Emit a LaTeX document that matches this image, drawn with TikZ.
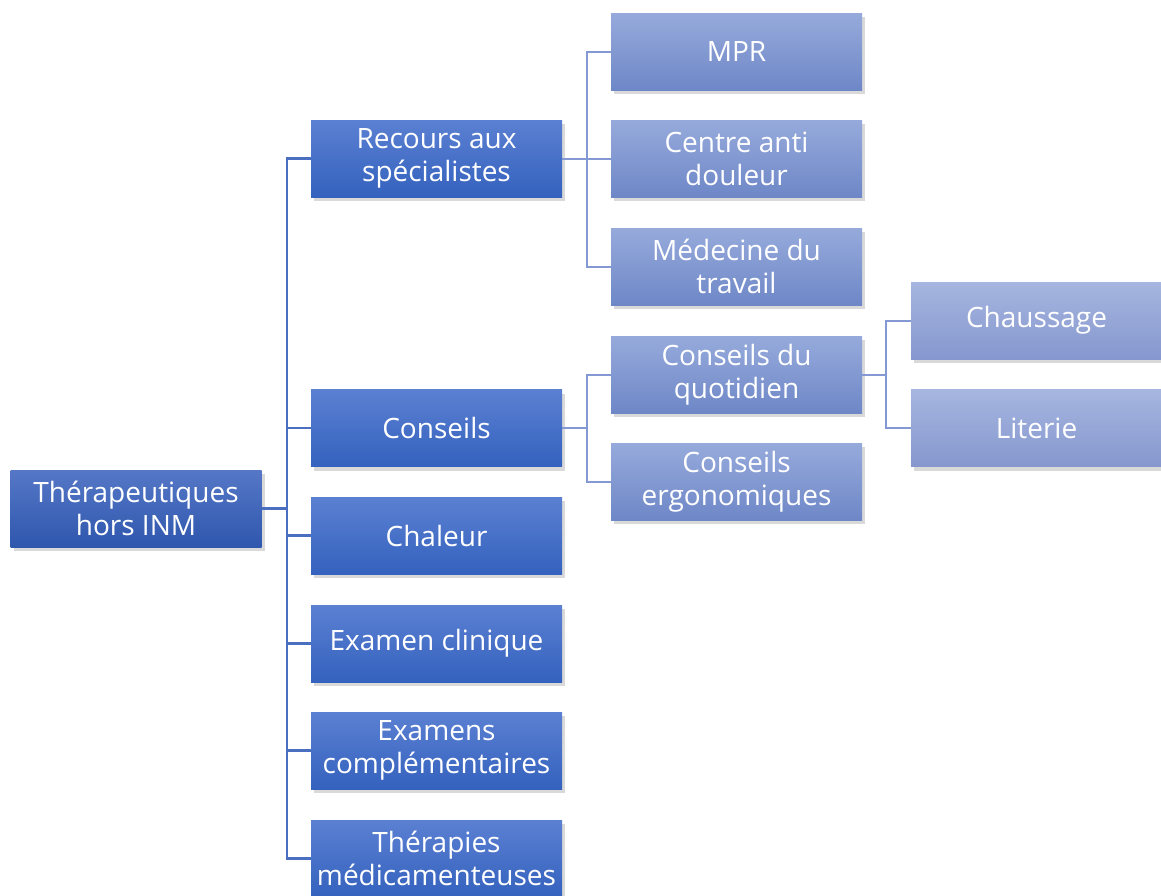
\documentclass[tikz,border=0pt]{standalone}
\usepackage{fontspec}
\setmainfont{Open Sans}
\usetikzlibrary{shadows}
\definecolor{rootT}{HTML}{5577C6}
\definecolor{rootB}{HTML}{2F57AE}
\definecolor{oneT}{HTML}{5B80D2}
\definecolor{oneB}{HTML}{3462BE}
\definecolor{twoT}{HTML}{96AADB}
\definecolor{twoB}{HTML}{6E87C7}
\definecolor{thrT}{HTML}{A6B6E0}
\definecolor{thrB}{HTML}{8597CE}
\definecolor{lineA}{HTML}{4A6FC0}
\definecolor{lineB}{HTML}{8498D3}
\tikzset{
  x=1pt,y=-1pt,
  box/.style={rectangle, minimum width=251pt, minimum height=77pt, inner sep=0pt,
    align=center, text=white, font=\fontsize{28}{33}\selectfont,
    drop shadow={opacity=0.3, shadow xshift=3pt, shadow yshift=-4pt}},
  rootbox/.style={box, top color=rootT, bottom color=rootB},
  onebox/.style={box, top color=oneT, bottom color=oneB},
  twobox/.style={box, top color=twoT, bottom color=twoB},
  thrbox/.style={box, top color=thrT, bottom color=thrB},
  conA/.style={draw=lineA, line width=2.3pt},
  conB/.style={draw=lineB, line width=2pt},
}
\begin{document}
\begin{tikzpicture}
\useasboundingbox (0,0) rectangle (1161,895);
\coordinate (t0) at (287,0);
\coordinate (t1) at (587,0);
\coordinate (t2) at (886,0);
% nodes
\node[rootbox] (root) at (136,508.5) {Thérapeutiques\\hors INM};
\node[onebox] (rec) at (436.5,158.5) {Recours aux\\spécialistes};
\node[onebox] (cons) at (436.5,428) {Conseils};
\node[onebox] (chal) at (436.5,535.5) {Chaleur};
\node[onebox] (exam) at (436.5,643.5) {Examen clinique};
\node[onebox] (exams) at (436.5,750.5) {Examens\\complémentaires};
\node[onebox] (ther) at (436.5,858.5) {Thérapies\\médicamenteuses};
\node[twobox] (mpr) at (736.5,51.5) {MPR};
\node[twobox] (cad) at (736.5,158.5) {Centre anti\\douleur};
\node[twobox] (med) at (736.5,266.5) {Médecine du\\travail};
\node[twobox] (cq) at (736.5,374.5) {Conseils du\\quotidien};
\node[twobox] (ce) at (736.5,481.5) {Conseils\\ergonomiques};
\node[thrbox] (chau) at (1036.5,320.5) {Chaussage};
\node[thrbox] (lit) at (1036.5,428) {Literie};
% level 1 connectors
\draw[conA] (root.east) -- (root.east -| t0);
\foreach \n in {rec,cons,chal,exam,exams,ther}
  \draw[conA] (root.east -| t0) |- (\n.west);
% level 2 connectors
\draw[conB] (rec.east) -- (rec.east -| t1);
\foreach \n in {mpr,cad,med}
  \draw[conB] (rec.east -| t1) |- (\n.west);
\draw[conB] (cons.east) -- (cons.east -| t1);
\foreach \n in {cq,ce}
  \draw[conB] (cons.east -| t1) |- (\n.west);
% level 3 connectors
\draw[conB] (cq.east) -- (cq.east -| t2);
\foreach \n in {chau,lit}
  \draw[conB] (cq.east -| t2) |- (\n.west);
\end{tikzpicture}
\end{document}
